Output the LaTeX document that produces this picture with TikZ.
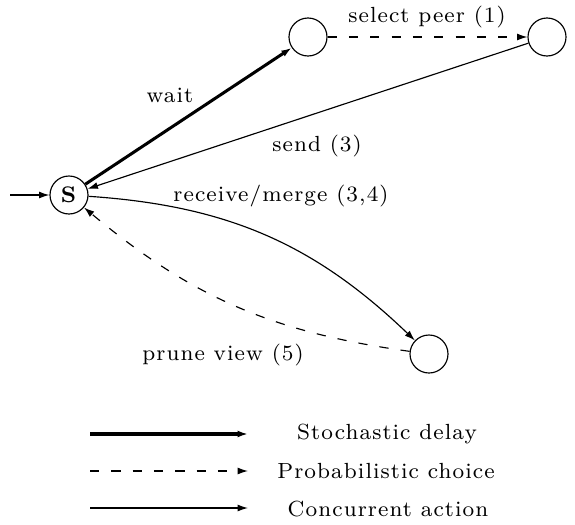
\documentclass[tikz,border=0pt]{standalone}
\usepackage{fontspec}
\setmainfont{Latin Modern Roman}[LetterSpace=5]
\usetikzlibrary{arrows.meta}
\begin{document}
\begin{tikzpicture}[x=0.347pt,y=0.347pt,
  state/.style={circle,draw,line width=0.4pt,minimum size=38*0.347pt,inner sep=0pt},
  lbl/.style={inner sep=0pt,font=\fontsize{7.6}{9}\selectfont},
  tip/.style={-{Latex[length=3.6pt,width=2.4pt]}},
  stoch/.style={tip,line width=1.05pt},
  prob/.style={tip,line width=0.4pt,dash pattern=on 3.2pt off 4.2pt},
  conc/.style={tip,line width=0.4pt}]
\useasboundingbox (0,0) rectangle (575,-524);
\node[state,font=\fontsize{7.8}{9}\selectfont] (S) at (69,-195) {\textbf{S}};
\node[state] (A) at (308,-37) {};
\node[state] (B) at (547,-37) {};
\node[state] (C) at (429,-354) {};
\coordinate (init) at (10,-195);
\draw[conc] (init) -- (S);
\draw[stoch] (S) -- (A);
\draw[prob] (A) -- (B);
\draw[conc] (B) -- (S);
\draw[conc] (S) to[bend left=20] (C);
\draw[prob] (C) to[bend left=16] (S);
\node[lbl] (l1) at (427,-17) {select peer (1)};
\node[lbl] (l2) at (170,-95) {wait};
\node[lbl] (l3) at (317,-146) {send (3)};
\node[lbl] (l4) at (281,-196) {receive/merge (3,4)};
\node[lbl] (l5) at (223,-355) {prune view (5)};
\coordinate (a1) at (90,-434); \coordinate (b1) at (248,-434);
\coordinate (a2) at (90,-471); \coordinate (b2) at (248,-471);
\coordinate (a3) at (90,-508); \coordinate (b3) at (248,-508);
\draw[stoch] (a1) -- (b1);
\draw[prob] (a2) -- (b2);
\draw[conc] (a3) -- (b3);
\node[lbl] (t1) at (387,-434) {Stochastic delay};
\node[lbl] (t2) at (386,-471) {Probabilistic choice};
\node[lbl] (t3) at (388,-509) {Concurrent action};
\end{tikzpicture}
\end{document}
